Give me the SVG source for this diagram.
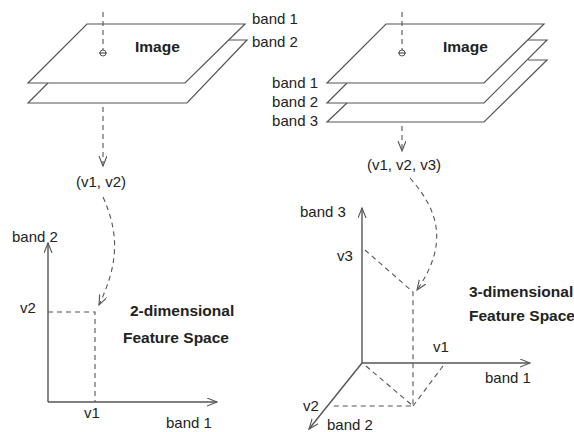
<svg xmlns="http://www.w3.org/2000/svg" width="574" height="432" viewBox="0 0 574 432">
<style>
text{font-family:"Liberation Sans",Arial,sans-serif;font-size:15px;fill:#222}
.b{font-weight:bold;font-size:15.5px}
.pl{fill:#fff;stroke:#555;stroke-width:1.2;stroke-linejoin:miter}
.ln{fill:none;stroke:#555;stroke-width:1.2}
.ax{fill:none;stroke:#555;stroke-width:1.4}
.d{fill:none;stroke:#555;stroke-width:1.1;stroke-dasharray:5 4}
</style>
<defs>
<marker id="ah" markerWidth="12" markerHeight="10" refX="10" refY="4" orient="auto" markerUnits="userSpaceOnUse">
<path d="M0,0 L10,4 L0,8" fill="none" stroke="#555" stroke-width="1.1"/>
</marker>
</defs>
<g id="image2d">
<polyline class="ln" points="229,40 247,40 187,103 28,103 48,83"/>
<polygon class="pl" points="87,24 245,24 185,83 28,83"/>
<text class="b" x="135" y="52">Image</text>
<circle cx="103" cy="53" r="3" fill="none" stroke="#555" stroke-width="1"/>
<line class="ln" x1="99" y1="53" x2="107" y2="53"/>
</g>
<g id="labels2d">
<text x="252" y="24">band 1</text>
<text x="252" y="47">band 2</text>
<text x="101" y="187" text-anchor="middle">(v1, v2)</text>
</g>
<g id="image3d">
<polyline class="ln" points="528,60 547,60 484,122 327,122 347,103"/>
<polyline class="ln" points="528,40 547,40 484,103 327,103 347,83"/>
<polygon class="pl" points="386,24 544,24 484,83 327,83"/>
<text class="b" x="443" y="52">Image</text>
<circle cx="402" cy="53" r="3" fill="none" stroke="#555" stroke-width="1"/>
<line class="ln" x1="398" y1="53" x2="406" y2="53"/>
</g>
<g id="labels3d">
<text x="318" y="88" text-anchor="end">band 1</text>
<text x="318" y="107" text-anchor="end">band 2</text>
<text x="318" y="126" text-anchor="end">band 3</text>
<text x="404" y="170" text-anchor="middle">(v1, v2, v3)</text>
</g>
<g id="space2d">
<text x="12" y="242">band 2</text>
<text x="166" y="428">band 1</text>
<text x="84" y="418">v1</text>
<text x="20" y="313">v2</text>
<text class="b" x="130" y="316">2-dimensional</text>
<text class="b" x="123" y="343">Feature Space</text>
</g>
<g id="space3d">
<text x="300" y="217">band 3</text>
<text x="337" y="261">v3</text>
<text x="433" y="352">v1</text>
<text x="485" y="383">band 1</text>
<text x="303" y="411">v2</text>
<text x="327" y="430">band 2</text>
<text class="b" x="469" y="297">3-dimensional</text>
<text class="b" x="469" y="321">Feature Space</text>
</g>
<g id="connectors">
<line class="d" x1="103" y1="12" x2="103" y2="50"/>
<line class="d" x1="103" y1="107" x2="103" y2="166" marker-end="url(#ah)"/>
<path class="d" d="M103,197 C120,235 118,265 99,305" marker-end="url(#ah)"/>
<line class="ax" x1="48" y1="402" x2="48" y2="243" marker-end="url(#ah)"/>
<line class="ax" x1="48" y1="402" x2="217" y2="402" marker-end="url(#ah)"/>
<polyline class="d" points="48,312 95,312 95,402"/>
<line class="d" x1="402" y1="12" x2="402" y2="50"/>
<line class="d" x1="402" y1="126" x2="402" y2="151" marker-end="url(#ah)"/>
<path class="d" d="M410,178 C440,212 448,245 417,290" marker-end="url(#ah)"/>
<line class="ax" x1="362" y1="363" x2="362" y2="208" marker-end="url(#ah)"/>
<line class="ax" x1="362" y1="363" x2="530" y2="363" marker-end="url(#ah)"/>
<line class="ax" x1="362" y1="363" x2="309" y2="429" marker-end="url(#ah)"/>
<polyline class="d" points="365,250 413,292 413,406 330,406"/>
<line class="d" x1="366" y1="366" x2="413" y2="406"/>
<line class="d" x1="413" y1="406" x2="443" y2="366"/>
</g>
</svg>
